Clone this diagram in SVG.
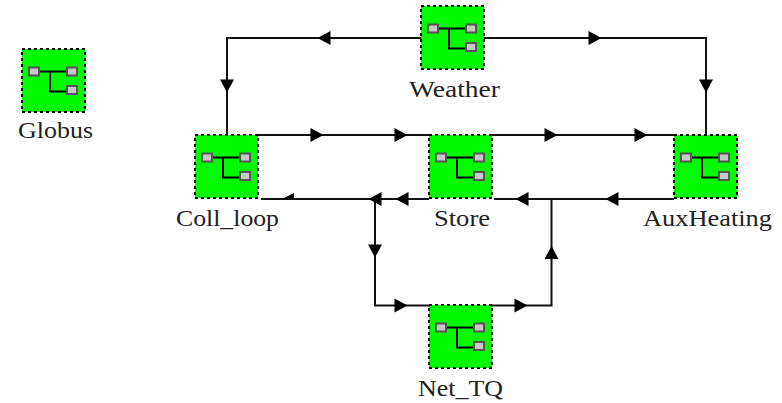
<svg xmlns="http://www.w3.org/2000/svg" width="782" height="403" viewBox="0 0 782 403">
<style>
.box{fill:#00fa00;stroke:#000;stroke-width:2;stroke-dasharray:3 3}
.sq{fill:#c8c8c8;stroke:#555;stroke-width:2}
.ln{fill:none;stroke:#000;stroke-width:2}
.c{fill:none;stroke:#111;stroke-width:2}
.a{fill:#000}
text{font-family:"Liberation Serif","Times New Roman",serif;font-size:23px;fill:#222}
</style>
<defs>
<g id="n">
<rect class="box" x="0" y="0" width="63" height="63"/>
<path class="ln" d="M16 22.5H46M28 22.5V42.5H46"/>
<rect class="sq" x="7" y="18.5" width="10" height="8"/>
<rect class="sq" x="45" y="18.5" width="10" height="8"/>
<rect class="sq" x="45" y="37" width="10" height="8"/>
</g>
<polygon id="r" class="a" points="-6.500,-7 6.500,0 -6.500,7"/>
<polygon id="l" class="a" points="6.500,-7 -6.500,0 6.500,7"/>
<polygon id="d" class="a" points="-7,-6.500 7,-6.500 0,6.500"/>
<polygon id="u" class="a" points="-7,6.500 7,6.500 0,-6.500"/>
</defs>
<g id="connectors">
<path class="c" d="M421 38H227V135"/>
<path class="c" d="M484 38H706V135"/>
<path class="c" d="M258 135H429"/>
<path class="c" d="M492 135H674"/>
<path class="c" d="M429 199H261"/>
<path class="c" d="M674 199H494"/>
<path class="c" d="M375 199V305.500H429"/>
<path class="c" d="M492 305.500H551.500V199"/>
<use href="#l" x="324" y="38"/>
<use href="#r" x="595" y="38"/>
<use href="#d" x="227" y="86"/>
<use href="#d" x="706" y="86"/>
<use href="#r" x="317" y="135"/>
<use href="#r" x="401" y="135"/>
<use href="#r" x="551" y="135"/>
<use href="#r" x="641" y="135"/>
<polygon class="a" points="282,199 294,193 294,199"/>
<use href="#l" x="375" y="199"/>
<use href="#l" x="402" y="199"/>
<use href="#l" x="522" y="199"/>
<use href="#l" x="612" y="199"/>
<use href="#d" x="375" y="251"/>
<use href="#u" x="551.500" y="252.500"/>
<use href="#r" x="401" y="305.500"/>
<use href="#r" x="521" y="305.500"/>
</g>
<g id="Weather"><use href="#n" x="421" y="6"/><text x="409" y="97" textLength="91" lengthAdjust="spacingAndGlyphs">Weather</text></g>
<g id="Globus"><use href="#n" x="22" y="49"/><text x="18" y="138" textLength="75" lengthAdjust="spacingAndGlyphs">Globus</text></g>
<g id="Coll_loop"><use href="#n" x="195" y="135"/><text x="176" y="226" textLength="103" lengthAdjust="spacingAndGlyphs">Coll_loop</text></g>
<g id="Store"><use href="#n" x="429" y="135"/><text x="434" y="226" textLength="56" lengthAdjust="spacingAndGlyphs">Store</text></g>
<g id="AuxHeating"><use href="#n" x="674" y="135"/><text x="643" y="226" textLength="129" lengthAdjust="spacingAndGlyphs">AuxHeating</text></g>
<g id="Net_TQ"><use href="#n" x="429" y="305"/><text x="418" y="396" textLength="85" lengthAdjust="spacingAndGlyphs">Net_TQ</text></g>
</svg>
